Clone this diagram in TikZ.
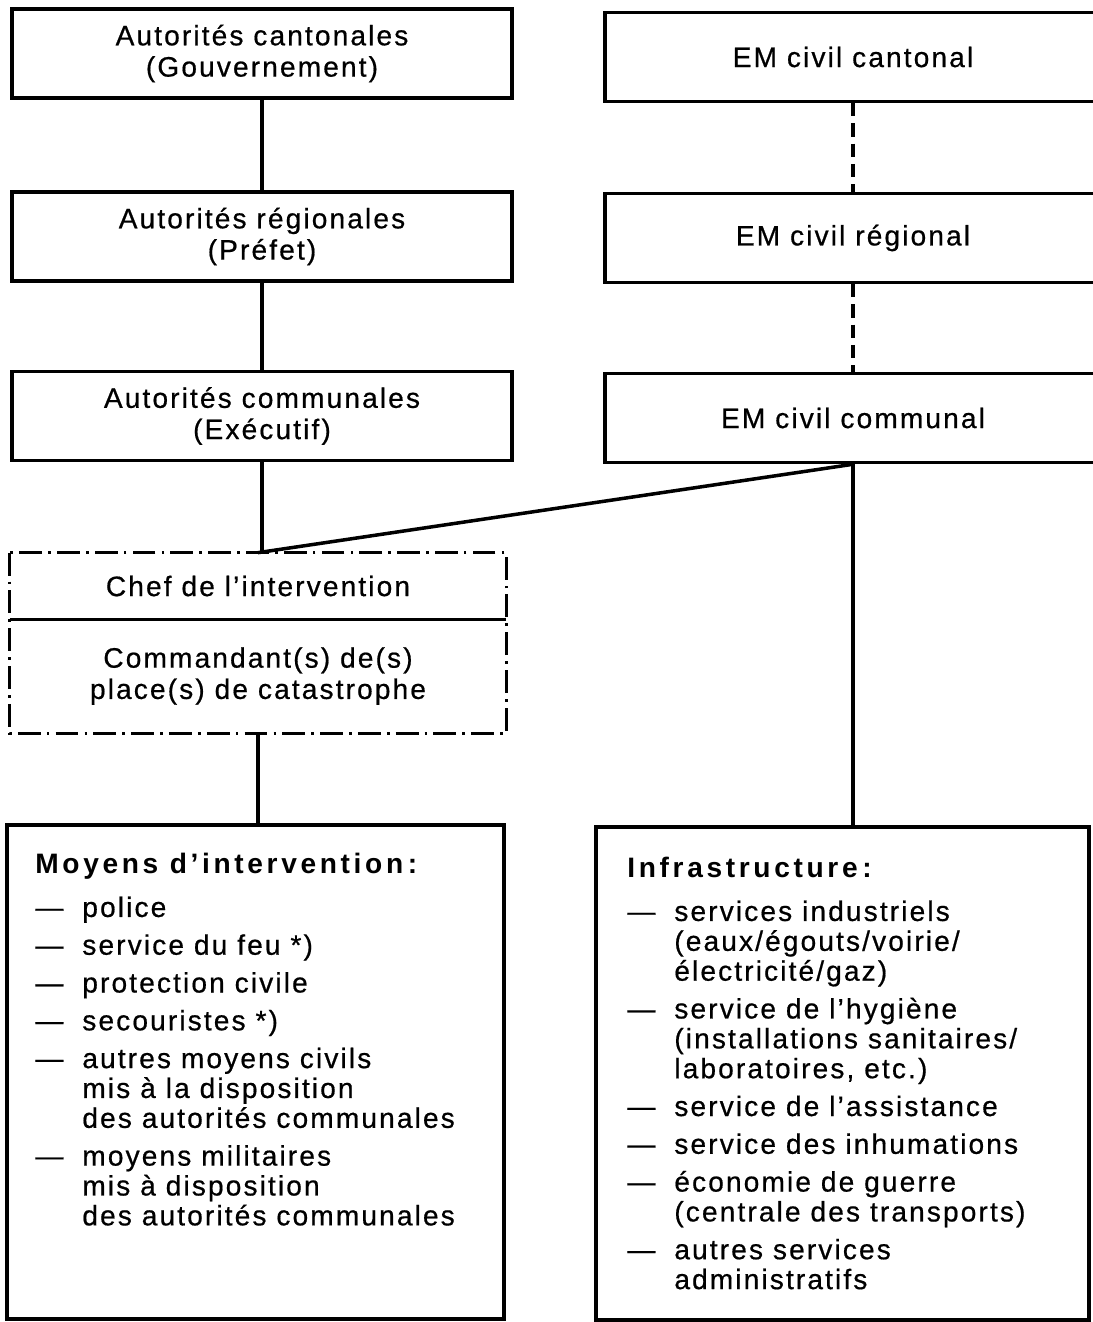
\documentclass[tikz,border=0pt]{standalone}
\usepackage{fontspec}
\setmainfont{Liberation Sans}[LetterSpace=7.5,
  UprightFeatures = {FakeBold=0.6},
  BoldFeatures = {LetterSpace=13}]

\newcommand{\tiret}{\makebox[9.4mm][l]{—}}
\newcommand{\suite}{\hspace*{9.4mm}}

\begin{document}
\begin{tikzpicture}[x = 0.2mm, y = -0.2mm,
    trait/.style = {line width = 2pt},
    boite/.style = {draw, trait, rectangle, align = center,
      inner sep = 0pt, font = \fontsize{16}{17.8}\selectfont},
    gauche/.style = {boite, minimum width = 100mm, minimum height = 17.8mm},
    droite/.style = {boite, minimum width = 99.2mm, minimum height = 17.8mm},
    case/.style = {rectangle, align = center, inner sep = 0pt,
      minimum width = 99.2mm, font = \fontsize{16}{17.8}\selectfont},
    cadre/.style = {draw, trait, rectangle, inner sep = 0pt},
    liste/.style = {inner sep = 0pt, align = left,
      font = \fontsize{16}{17}\selectfont},
    pointille/.style = {trait, dash pattern = on 7.5pt off 4pt},
    tiretpoint/.style = {trait,
      dash pattern = on 13pt off 3.5pt on 1.5pt off 3.5pt}
  ]
  \useasboundingbox (0,0) rectangle (1093,1322);

  % autorites
  \node[gauche] (cantaut) at (262,53.5) {Autorités cantonales\\(Gouvernement)};
  \node[gauche] (regaut)  at (262,236.5) {Autorités régionales\\(Préfet)};
  \node[gauche] (comaut)  at (262,416) {Autorités communales\\(Exécutif)};

  % etats-majors
  \node[droite] (cantem) at (853,57) {EM civil cantonal};
  \node[droite] (regem)  at (853,238) {EM civil régional};
  \node[droite] (comem)  at (853,418) {EM civil communal};

  % intervention
  \node[case, minimum height = 13.2mm] (chef) at (258,586)
    {Chef de l’intervention};
  \node[case, minimum height = 22.8mm] (cmdt) at (258,676)
    {Commandant(s) de(s)\\place(s) de catastrophe};
  \draw[tiretpoint] (chef.north west) rectangle (cmdt.south east);
  \draw[trait] (chef.south west) -- (chef.south east);

  % moyens et infrastructure
  \node[cadre, minimum width = 99.4mm, minimum height = 98.8mm]
    (moyens) at (255.5,1072) {};
  \node[cadre, minimum width = 98.6mm, minimum height = 98.6mm]
    (infra) at (842.5,1073.5) {};

  \node[liste, anchor = base west] (moyenstxt) at (35,873)
    {\begin{tabular}[t]{@{}l@{}}
      \textbf{Moyens d’intervention\,:}\\[8pt]
      \tiret police\\[4.5pt]
      \tiret service du feu *)\\[4.5pt]
      \tiret protection civile\\[4.5pt]
      \tiret secouristes *)\\[4.5pt]
      \tiret autres moyens civils\\
      \suite mis à la disposition\\
      \suite des autorités communales\\[4.5pt]
      \tiret moyens militaires\\
      \suite mis à disposition\\
      \suite des autorités communales
    \end{tabular}};
  \node[liste, anchor = base west] (infratxt) at (627,877)
    {\begin{tabular}[t]{@{}l@{}}
      \textbf{Infrastructure\,:}\\[8pt]
      \tiret services industriels\\
      \suite (eaux/égouts/voirie/\\
      \suite électricité/gaz)\\[4.5pt]
      \tiret service de l’hygiène\\
      \suite (installations sanitaires/\\
      \suite laboratoires, etc.)\\[4.5pt]
      \tiret service de l’assistance\\[4.5pt]
      \tiret service des inhumations\\[4.5pt]
      \tiret économie de guerre\\
      \suite (centrale des transports)\\[4.5pt]
      \tiret autres services\\
      \suite administratifs
    \end{tabular}};

  % liaisons
  \draw[trait] (cantaut) -- (regaut);
  \draw[trait] (regaut) -- (comaut);
  \draw[trait] (comaut.south) -- (comaut.south |- chef.north);
  \draw[pointille] (cantem) -- (regem);
  \draw[pointille] (regem) -- (comem);
  \draw[trait] (comem.south) -- (chef.north);
  \draw[trait] (comem.south) -- (comem.south |- infra.north);
  \draw[trait] (cmdt.south) -- (cmdt.south |- moyens.north);
\end{tikzpicture}
\end{document}
